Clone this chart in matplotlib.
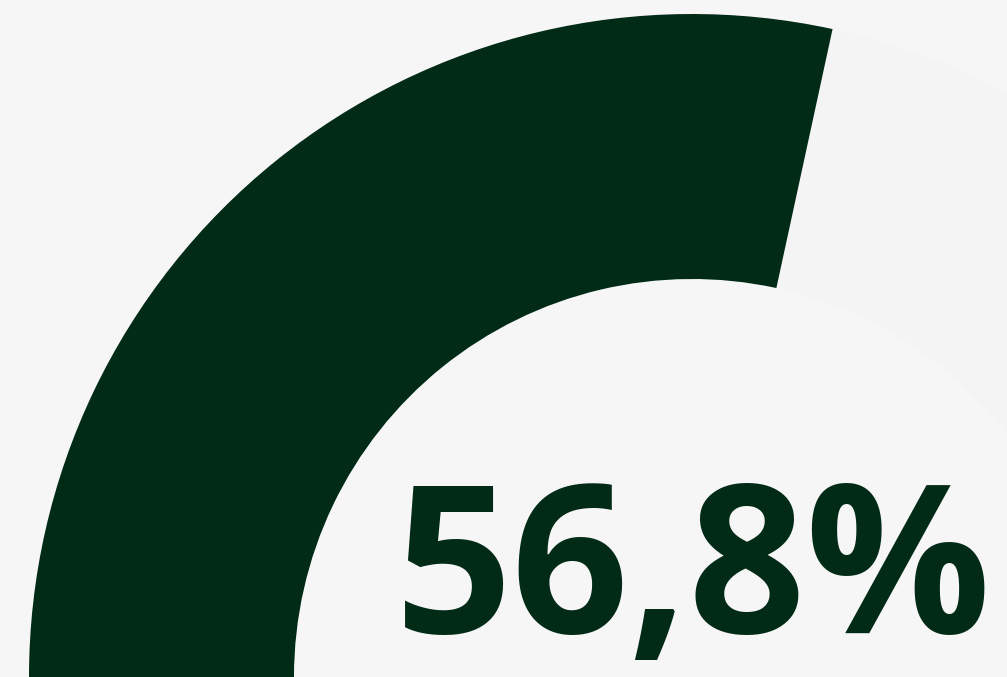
import matplotlib
matplotlib.use("Agg")
import matplotlib.pyplot as plt
from matplotlib.patches import Wedge

# gauge data
value = 56.8
max_value = 100.0
label = "56,8%"

bg = "#f6f6f6"
fill_color = "#022b17"
rest_color = "#f4f4f4"

fig = plt.figure(figsize=(10.07, 6.77), dpi=100)
fig.patch.set_facecolor(bg)
ax = fig.add_axes([0, 0, 1, 1])
ax.set_facecolor(bg)
ax.set_xlim(0, 1007)
ax.set_ylim(0, 677)
ax.axis("off")

cx, cy = 692, 0
r_out, width = 663, 265
split = 180 - 180 * value / max_value

ax.add_patch(Wedge((cx, cy), r_out, 0, split, width=width, facecolor=rest_color, edgecolor="none"))
ax.add_patch(Wedge((cx, cy), r_out, split, 180, width=width, facecolor=fill_color, edgecolor="none"))

ax.text(992, 44, label, ha="right", va="baseline", fontsize=148,
        fontweight="bold", family=["Open Sans", "DejaVu Sans"], color=fill_color)

fig.savefig("out.png", dpi=100, facecolor=bg)
